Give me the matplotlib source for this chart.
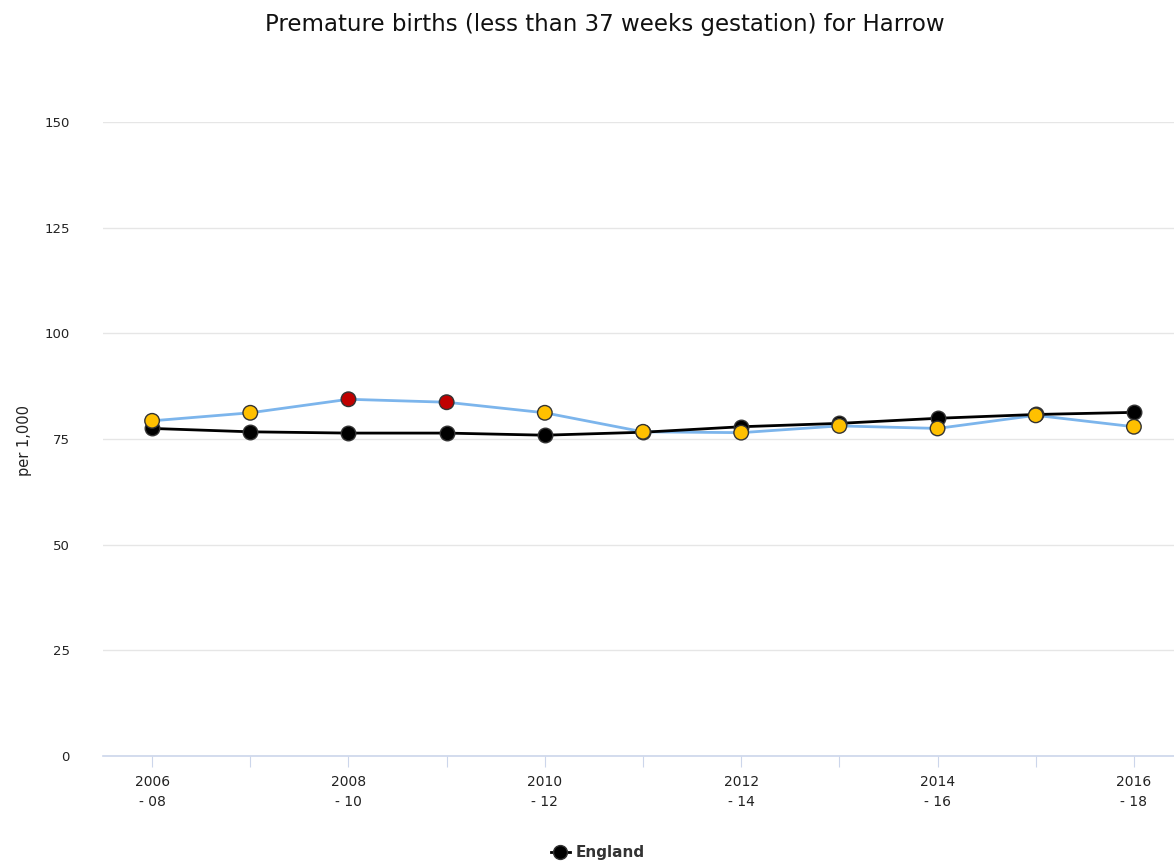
import matplotlib
matplotlib.use("Agg")
import matplotlib.pyplot as plt
from matplotlib.lines import Line2D

categories = ["2006\n- 08", "2007\n- 09", "2008\n- 10", "2009\n- 11", "2010\n- 12", "2011\n- 13",
              "2012\n- 14", "2013\n- 15", "2014\n- 16", "2015\n- 17", "2016\n- 18"]
harrow = [79.3, 81.2, 84.4, 83.7, 81.2, 76.7, 76.5, 78.1, 77.5, 80.6, 77.9]
harrow_status = ["similar", "similar", "worse", "worse", "similar", "similar",
                 "similar", "similar", "similar", "similar", "similar"]
england = [77.5, 76.7, 76.4, 76.4, 75.9, 76.6, 77.9, 78.7, 79.9, 80.8, 81.3]
y_ticks = [0, 25, 50, 75, 100, 125, 150]

status_colors = {"similar": "#ffc000", "worse": "#c00000"}

plt.rcParams['font.family'] = ['DejaVu Sans']
fig = plt.figure(figsize=(11.74, 8.66), dpi=100)
ax = fig.add_axes([103/1174, 110/866, 1080/1174, 634/866])

x = list(range(len(categories)))

ax.plot(x, harrow, color="#7cb5ec", lw=2, zorder=3, clip_on=False)
ax.plot(x, england, color="black", lw=2, zorder=4, clip_on=False)
ax.scatter(x, england, s=110, color="black", edgecolor="#333333", linewidth=1, zorder=5, clip_on=False)
ax.scatter(x, harrow, s=110, c=[status_colors[s] for s in harrow_status],
           edgecolor="#333333", linewidth=1, zorder=6, clip_on=False)

ax.set_xlim(-0.5, len(categories) - 0.5)
ax.set_ylim(0, 150)
ax.set_yticks(y_ticks)
ax.set_yticklabels([str(t) for t in y_ticks], fontsize=9.5, color="#222222")
ax.set_xticks(x)
ax.set_xticklabels([c if i % 2 == 0 else "" for i, c in enumerate(categories)],
                   fontsize=10, color="#222222", linespacing=1.5)
ax.tick_params(axis='y', length=0, pad=24)
ax.tick_params(axis='x', length=8, color="#ccd6eb", pad=6)
ax.grid(axis='y', color="#e6e6e6", lw=1)
ax.set_axisbelow(True)
for sp in ["top", "right", "left"]:
    ax.spines[sp].set_visible(False)
ax.spines["bottom"].set_color("#ccd6eb")
ax.spines["bottom"].set_linewidth(1.2)
ax.spines["bottom"].set_zorder(2)

fig.text(25/1174, 1 - 440/866, "per 1,000", rotation=90, ha="center", va="center",
         fontsize=10.5, color="#222222")
fig.text(605/1174, 1 - 24/866, "Premature births (less than 37 weeks gestation) for Harrow",
         ha="center", va="center", fontsize=16.5, color="#111111")

handle = Line2D([], [], color="black", lw=2, marker="o", markersize=10,
                markeredgecolor="#333333")
leg = fig.legend([handle], ["England"], loc="center", bbox_to_anchor=(598/1174, 1 - 853/866),
                 frameon=False, handlelength=1.2, handletextpad=0.4,
                 prop={"weight": "bold", "size": 11})
for t in leg.get_texts():
    t.set_color("#333333")

fig.savefig("out.png", dpi=100)
